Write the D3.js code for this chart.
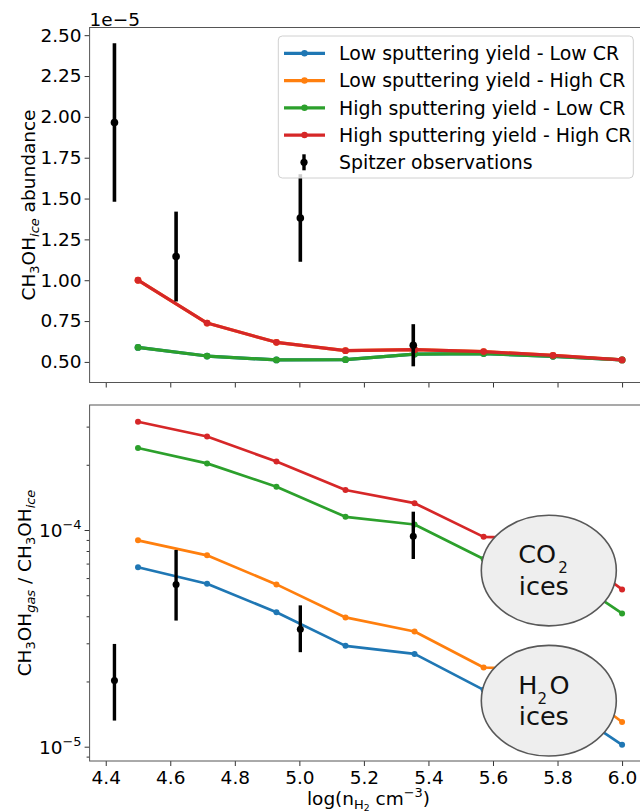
<!DOCTYPE html>
<html><head><meta charset="utf-8">
<script src="https://cdn.jsdelivr.net/npm/d3@7"></script>
<style>
body{margin:0;background:#fff}
svg{display:block}
text{font-family:"DejaVu Sans",sans-serif}
</style>
</head><body>
<svg id="chart" width="640" height="812"></svg>
<script>
// ---------------- data ----------------
const xDensity = [4.5, 4.714, 4.929, 5.143, 5.357, 5.571, 5.786, 6.0];
const seriesNames = [
  "Low sputtering yield - Low CR",
  "Low sputtering yield - High CR",
  "High sputtering yield - Low CR",
  "High sputtering yield - High CR"
];
const seriesColors = ["#1f77b4", "#ff7f0e", "#2ca02c", "#d62728"];

// CH3OH ice abundance, in units of 1e-5 (low-sputtering curves coincide with high-sputtering ones)
const iceLowLow   = [0.589, 0.536, 0.512, 0.514, 0.548, 0.551, 0.534, 0.512];
const iceLowHigh  = [1.000, 0.738, 0.620, 0.569, 0.575, 0.563, 0.540, 0.512];
const iceHighLow  = [0.589, 0.536, 0.512, 0.514, 0.548, 0.551, 0.534, 0.512];
const iceHighHigh = [1.000, 0.738, 0.620, 0.569, 0.575, 0.563, 0.540, 0.512];

// CH3OH gas / CH3OH ice
const ratioLowLow   = [6.73e-5, 5.65e-5, 4.17e-5, 2.92e-5, 2.68e-5, 1.83e-5, 1.67e-5, 1.02e-5];
const ratioLowHigh  = [8.96e-5, 7.64e-5, 5.61e-5, 3.95e-5, 3.40e-5, 2.32e-5, 2.27e-5, 1.30e-5];
const ratioHighLow  = [2.39e-4, 2.03e-4, 1.585e-4, 1.15e-4, 1.06e-4, 7.35e-5, 6.76e-5, 4.12e-5];
const ratioHighHigh = [3.16e-4, 2.70e-4, 2.07e-4, 1.53e-4, 1.33e-4, 9.30e-5, 9.09e-5, 5.32e-5];

// Spitzer observations
const obsX = [4.427, 4.618, 5.003, 5.353];
const obsIce = [1.965, 1.145, 1.381, 0.602];      // 1e-5
const obsIceErr = [0.485, 0.275, 0.268, 0.129];   // 1e-5
const obsRatio = [2.02e-5, 5.61e-5, 3.48e-5, 9.35e-5];
const obsRatioLow = [1.32e-5, 3.82e-5, 2.73e-5, 7.35e-5];
const obsRatioHigh = [2.98e-5, 8.09e-5, 4.49e-5, 1.215e-4];

// ticks
const xTicks = [4.4, 4.6, 4.8, 5.0, 5.2, 5.4, 5.6, 5.8, 6.0];
const xTickLabels = ["4.4", "4.6", "4.8", "5.0", "5.2", "5.4", "5.6", "5.8", "6.0"];
const iceTicks = [0.5, 0.75, 1.0, 1.25, 1.5, 1.75, 2.0, 2.25, 2.5];
const iceTickLabels = ["0.50", "0.75", "1.00", "1.25", "1.50", "1.75", "2.00", "2.25", "2.50"];
const ratioMajorTicks = [1e-5, 1e-4];
const ratioMajorExp = ["\u22125", "\u22124"];
const ratioMinorTicks = [9e-6, 2e-5, 3e-5, 4e-5, 5e-5, 6e-5, 7e-5, 8e-5, 9e-5, 2e-4, 3e-4];

// annotation bubbles (data coords of centres)
const bubbleX = [5.773, 5.773];
const bubbleY = [6.5e-5, 1.63e-5];

// ---------------- drawing ----------------
const svg = d3.select("#chart");
const FS = 18.5;
const LFS = 18.9;
const left = 89.6, right = 647.4;
const topA = {t: 27.5, b: 382.5};
const botA = {t: 405, b: 761};

const x = d3.scaleLinear().domain([4.35, 6.0785]).range([left, right]);
const yTop = d3.scaleLinear().domain([0.374, 2.547]).range([topA.b, topA.t]);
const yBot = d3.scaleLog().domain([8.59e-6, 3.775e-4]).range([botA.b, botA.t]);

function rich(textSel, parts, baseSize) {
  let shift = 0;
  parts.forEach(p => {
    const ts = textSel.append("tspan").text(p.t);
    let target = 0, size = baseSize;
    if (p.sub) { target = baseSize * 0.22; size = baseSize * 0.7; }
    if (p.subsub) { target = baseSize * 0.32; size = baseSize * 0.5; }
    if (p.sup) { target = -baseSize * 0.42; size = baseSize * 0.7; }
    ts.attr("font-size", size).attr("dy", target - shift);
    if (p.it) ts.attr("font-style", "italic");
    shift = target;
  });
}

function styleAxis(g) {
  g.select(".domain").remove();
  g.selectAll(".tick line").attr("stroke", "#333").attr("stroke-width", 1);
  g.selectAll(".tick text").attr("font-size", FS).attr("fill", "#000")
    .attr("font-family", "DejaVu Sans");
}

// ---- top panel ----
const gT = svg.append("g");
const iceSeries = [iceLowLow, iceLowHigh, iceHighLow, iceHighHigh];
const lineT = d3.line().x((d, i) => x(xDensity[i])).y(d => yTop(d));
iceSeries.forEach((s, k) => {
  gT.append("path").attr("d", lineT(s)).attr("fill", "none")
    .attr("stroke", seriesColors[k]).attr("stroke-width", 3.2).attr("stroke-linejoin", "round");
  gT.selectAll(null).data(s).enter().append("circle")
    .attr("cx", (d, i) => x(xDensity[i])).attr("cy", d => yTop(d)).attr("r", 3.4)
    .attr("fill", seriesColors[k]);
});
obsX.forEach((ox, i) => {
  gT.append("line").attr("x1", x(ox)).attr("x2", x(ox))
    .attr("y1", yTop(obsIce[i] - obsIceErr[i])).attr("y2", yTop(obsIce[i] + obsIceErr[i]))
    .attr("stroke", "#000").attr("stroke-width", 3.6);
  gT.append("circle").attr("cx", x(ox)).attr("cy", yTop(obsIce[i])).attr("r", 3.8).attr("fill", "#000");
});

const axTL = gT.append("g").attr("transform", `translate(${left},0)`)
  .call(d3.axisLeft(yTop).tickValues(iceTicks).tickFormat((d, i) => iceTickLabels[i]).tickSize(5).tickPadding(3));
styleAxis(axTL);
const axTB = gT.append("g").attr("transform", `translate(0,${topA.b})`)
  .call(d3.axisBottom(x).tickValues(xTicks).tickFormat("").tickSize(5));
styleAxis(axTB);
gT.append("rect").attr("x", left).attr("y", topA.t).attr("width", right - left).attr("height", topA.b - topA.t)
  .attr("fill", "none").attr("stroke", "#555").attr("stroke-width", 1);

gT.append("text").attr("x", left).attr("y", 26).attr("font-size", FS).attr("fill", "#000").text("1e\u22125");

const ylT = gT.append("text").attr("transform", `translate(35,${(topA.t + topA.b) / 2}) rotate(-90)`)
  .attr("text-anchor", "middle").attr("font-size", FS).attr("fill", "#000");
rich(ylT, [{t: "CH"}, {t: "3", sub: 1}, {t: "OH"}, {t: "ice", sub: 1, it: 1}, {t: " abundance"}], FS);

// legend
const lg = gT.append("g");
lg.append("rect").attr("x", 278.3).attr("y", 36).attr("width", 355).attr("height", 142).attr("rx", 4)
  .attr("fill", "#fff").attr("fill-opacity", 0.8).attr("stroke", "#d0d0d0").attr("stroke-width", 1);
const rowY = d => 53.3 + d * 27.25;
seriesNames.forEach((n, k) => {
  lg.append("line").attr("x1", 284).attr("x2", 325).attr("y1", rowY(k)).attr("y2", rowY(k))
    .attr("stroke", seriesColors[k]).attr("stroke-width", 3.2);
  lg.append("circle").attr("cx", 304.5).attr("cy", rowY(k)).attr("r", 3.2).attr("fill", seriesColors[k]);
  lg.append("text").attr("x", 339).attr("y", rowY(k) + 6.8).attr("font-size", LFS).attr("fill", "#000").text(n);
});
lg.append("line").attr("x1", 304).attr("x2", 304).attr("y1", rowY(4) - 8).attr("y2", rowY(4) + 8)
  .attr("stroke", "#000").attr("stroke-width", 3.4);
lg.append("circle").attr("cx", 304).attr("cy", rowY(4)).attr("r", 3.6).attr("fill", "#000");
lg.append("text").attr("x", 339).attr("y", rowY(4) + 6.8).attr("font-size", LFS).attr("fill", "#000").text("Spitzer observations");

// ---- bottom panel ----
const gB = svg.append("g");
const ratioSeries = [ratioLowLow, ratioLowHigh, ratioHighLow, ratioHighHigh];
const lineB = d3.line().x((d, i) => x(xDensity[i])).y(d => yBot(d));
ratioSeries.forEach((s, k) => {
  gB.append("path").attr("d", lineB(s)).attr("fill", "none")
    .attr("stroke", seriesColors[k]).attr("stroke-width", 2.7).attr("stroke-linejoin", "round");
  gB.selectAll(null).data(s).enter().append("circle")
    .attr("cx", (d, i) => x(xDensity[i])).attr("cy", d => yBot(d)).attr("r", 3)
    .attr("fill", seriesColors[k]);
});
obsX.forEach((ox, i) => {
  gB.append("line").attr("x1", x(ox)).attr("x2", x(ox))
    .attr("y1", yBot(obsRatioLow[i])).attr("y2", yBot(obsRatioHigh[i]))
    .attr("stroke", "#000").attr("stroke-width", 3.4);
  gB.append("circle").attr("cx", x(ox)).attr("cy", yBot(obsRatio[i])).attr("r", 3.5).attr("fill", "#000");
});

const axBLmin = gB.append("g").attr("transform", `translate(${left},0)`)
  .call(d3.axisLeft(yBot).tickValues(ratioMinorTicks).tickFormat("").tickSize(3));
styleAxis(axBLmin);
const axBL = gB.append("g").attr("transform", `translate(${left},0)`)
  .call(d3.axisLeft(yBot).tickValues(ratioMajorTicks).tickFormat("").tickSize(5));
styleAxis(axBL);
axBL.selectAll(".tick").each(function(d, i) {
  const t = d3.select(this).append("text").attr("x", -8).attr("y", 6.5)
    .attr("text-anchor", "end").attr("font-size", FS).attr("fill", "#000");
  rich(t, [{t: "10"}, {t: ratioMajorExp[i], sup: 1}], FS);
});
const axBB = gB.append("g").attr("transform", `translate(0,${botA.b})`)
  .call(d3.axisBottom(x).tickValues(xTicks).tickFormat((d, i) => xTickLabels[i]).tickSize(5).tickPadding(5));
styleAxis(axBB);
gB.append("rect").attr("x", left).attr("y", botA.t).attr("width", right - left).attr("height", botA.b - botA.t)
  .attr("fill", "none").attr("stroke", "#555").attr("stroke-width", 1);

const ylB = gB.append("text").attr("transform", `translate(31,${(botA.t + botA.b) / 2}) rotate(-90)`)
  .attr("text-anchor", "middle").attr("font-size", FS).attr("fill", "#000");
rich(ylB, [{t: "CH"}, {t: "3", sub: 1}, {t: "OH"}, {t: "gas", sub: 1, it: 1}, {t: " / CH"}, {t: "3", sub: 1}, {t: "OH"}, {t: "ice", sub: 1, it: 1}], FS);

const xl = svg.append("text").attr("x", (left + right) / 2).attr("y", 805)
  .attr("text-anchor", "middle").attr("font-size", FS).attr("fill", "#000");
rich(xl, [{t: "log(n"}, {t: "H", sub: 1}, {t: "2", subsub: 1}, {t: " cm"}, {t: "\u22123", sup: 1}, {t: ")"}], FS);

// ---- bubbles ----
const bubbleParts = [
  [{t: "CO", s: 25.5, dx: 0, dy: 0}, {t: "2", s: 15, dx: 2, dy: 10}, {t: "ices", s: 25.5, nl: 1, dy: 21.7}],
  [{t: "H", s: 25.5, dx: 0, dy: 0}, {t: "2", s: 15, dx: 0, dy: 10.7}, {t: "O", s: 25.5, dx: 2.5, dy: -10.7}, {t: "ices", s: 25.5, nl: 1, dy: 31.7}]
];
bubbleX.forEach((bx, i) => {
  const cx = x(bx), cy = yBot(bubbleY[i]);
  const g = svg.append("g");
  g.append("ellipse").attr("cx", cx).attr("cy", cy).attr("rx", 67.5).attr("ry", 55.3)
    .attr("fill", "#eeeeee").attr("stroke", "#585858").attr("stroke-width", 1.6);
  const x0 = cx - 30.5, y0 = cy - 7.2;
  const t = g.append("text").attr("x", x0).attr("y", y0)
    .attr("font-family", "Liberation Sans, Arial, sans-serif").attr("fill", "#111");
  bubbleParts[i].forEach(p => {
    const ts = t.append("tspan").attr("font-size", p.s).attr("dy", p.dy).text(p.t);
    if (p.nl) ts.attr("x", x0 + 0.5); else ts.attr("dx", p.dx);
  });
});
</script>
</body></html>
